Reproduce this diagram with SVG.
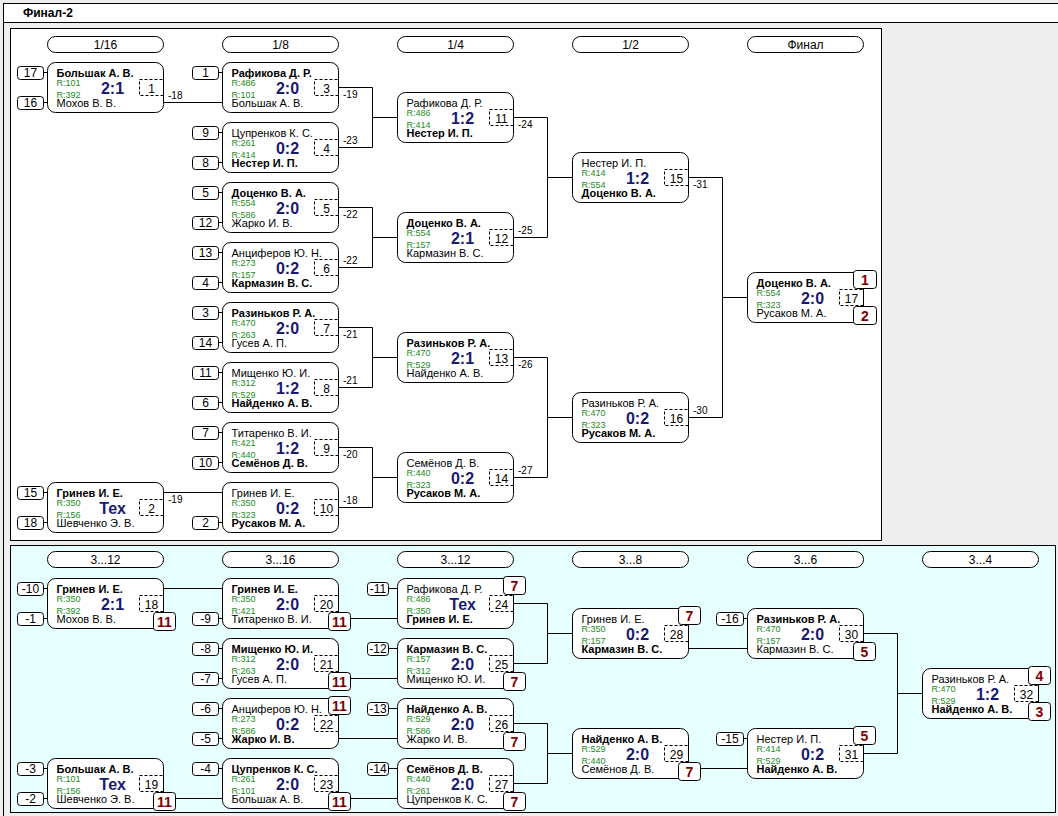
<svg xmlns="http://www.w3.org/2000/svg" width="1058" height="816" viewBox="0 0 1058 816">
<style>
text{font-family:"Liberation Sans",Arial,sans-serif;fill:#000}
.bx{fill:#fff;stroke:#000}
.sd{fill:#fff;stroke:#000}
.dn{fill:none;stroke:#000;stroke-dasharray:3 2}
.bg{fill:#fff;stroke:#000}
.nb{font-size:11px;font-weight:bold}
.nr{font-size:11px}
.r{font-size:9px;fill:#228b22}
.sc{font-size:16px;font-weight:bold;fill:#191970;text-anchor:middle}
.mn{font-size:12px;text-anchor:middle}
.st{font-size:12px;text-anchor:middle}
.bt{font-size:14px;font-weight:bold;fill:#800000;text-anchor:middle}
.lb{font-size:10px}
.hd{font-size:12px;text-anchor:middle}
.cn{fill:none;stroke:#000}
.hp{fill:#fff;stroke:#000}
</style>
<rect x="0" y="0" width="1058" height="816" fill="#eeeeee"/>
<rect x="3.5" y="3.5" width="1060" height="830" fill="none" stroke="#000"/>
<rect x="3.5" y="3.5" width="1060" height="19" fill="#fff" stroke="#000"/>
<text x="23" y="17" style="font-size:12px;font-weight:bold">Финал-2</text>
<rect x="10.5" y="28.5" width="871" height="512" fill="#fff" stroke="#000"/>
<rect x="10.5" y="545.5" width="1045" height="267" fill="#e6ffff" stroke="#000"/>

<g id="headers">
<rect class="hp" x="47.5" y="36.5" width="116" height="16" rx="8"/><text class="hd" x="105.5" y="48.5">1/16</text>
<rect class="hp" x="222.5" y="36.5" width="116" height="16" rx="8"/><text class="hd" x="280.5" y="48.5">1/8</text>
<rect class="hp" x="397.5" y="36.5" width="116" height="16" rx="8"/><text class="hd" x="455.5" y="48.5">1/4</text>
<rect class="hp" x="572.5" y="36.5" width="116" height="16" rx="8"/><text class="hd" x="630.5" y="48.5">1/2</text>
<rect class="hp" x="747.5" y="36.5" width="116" height="16" rx="8"/><text class="hd" x="805.5" y="48.5">Финал</text>
<rect class="hp" x="47.5" y="551.5" width="116" height="16" rx="8"/><text class="hd" x="105.5" y="563.5">3...12</text>
<rect class="hp" x="222.5" y="551.5" width="116" height="16" rx="8"/><text class="hd" x="280.5" y="563.5">3...16</text>
<rect class="hp" x="397.5" y="551.5" width="116" height="16" rx="8"/><text class="hd" x="455.5" y="563.5">3...12</text>
<rect class="hp" x="572.5" y="551.5" width="116" height="16" rx="8"/><text class="hd" x="630.5" y="563.5">3...8</text>
<rect class="hp" x="747.5" y="551.5" width="116" height="16" rx="8"/><text class="hd" x="805.5" y="563.5">3...6</text>
<rect class="hp" x="922.5" y="551.5" width="116" height="16" rx="8"/><text class="hd" x="980.5" y="563.5">3...4</text>
</g>

<g id="connectors">
<path class="cn" d="M163.5,102.5 H222.5 M163.5,492.5 H222.5
M338.5,87.5 H372.5 V147.5 H338.5 M372.5,117.5 H397.5
M338.5,207.5 H372.5 V267.5 H338.5 M372.5,237.5 H397.5
M338.5,327.5 H372.5 V387.5 H338.5 M372.5,357.5 H397.5
M338.5,447.5 H372.5 V507.5 H338.5 M372.5,477.5 H397.5
M513.5,117.5 H547.5 V237.5 H513.5 M547.5,177.5 H572.5
M513.5,357.5 H547.5 V477.5 H513.5 M547.5,417.5 H572.5
M688.5,177.5 H722.5 V417.5 H688.5 M722.5,297.5 H747.5
M163.5,588.5 H222.5 M163.5,798.5 H222.5
M338.5,618.5 H397.5 M338.5,678.5 H397.5 M338.5,738.5 H397.5 M338.5,798.5 H397.5
M513.5,603.5 H547.5 V663.5 H513.5 M547.5,633.5 H572.5
M513.5,723.5 H547.5 V783.5 H513.5 M547.5,753.5 H572.5
M688.5,648.5 H747.5 M688.5,768.5 H747.5
M863.5,633.5 H897.5 V753.5 H863.5 M897.5,693.5 H922.5"/>
<text class="lb" x="168" y="99">-18</text>
<text class="lb" x="168" y="503">-19</text>
<text class="lb" x="343" y="98">-19</text>
<text class="lb" x="343" y="144">-23</text>
<text class="lb" x="343" y="218">-22</text>
<text class="lb" x="343" y="264">-22</text>
<text class="lb" x="343" y="338">-21</text>
<text class="lb" x="343" y="384">-21</text>
<text class="lb" x="343" y="458">-20</text>
<text class="lb" x="343" y="504">-18</text>
<text class="lb" x="518" y="128">-24</text>
<text class="lb" x="518" y="234">-25</text>
<text class="lb" x="518" y="368">-26</text>
<text class="lb" x="518" y="474">-27</text>
<text class="lb" x="693" y="188">-31</text>
<text class="lb" x="693" y="414">-30</text>
</g>

<g id="m1" transform="translate(47.5,62.5)">
<rect class="sd" x="-30" y="4" width="26" height="13" rx="3"/><text class="st" x="-17" y="14.5">17</text>
<rect class="sd" x="-30" y="34" width="26" height="13" rx="3"/><text class="st" x="-17" y="44.5">16</text>
<path class="cn" d="M-4,10 H0 M-4,40 H0"/>
<rect class="bx" width="116" height="50" rx="8"/>
<text class="nb" x="9" y="14">Большак А. В.</text><text class="r" x="9" y="23.5">R:101</text><text class="r" x="9" y="35">R:392</text>
<text class="sc" x="65" y="31">2:1</text><text class="nr" x="9" y="44">Мохов В. В.</text>
<rect class="dn" x="92" y="17" width="24" height="16"/><text class="mn" x="104" y="30">1</text>
</g>
<g id="m2" transform="translate(47.5,482.5)">
<rect class="sd" x="-30" y="4" width="26" height="13" rx="3"/><text class="st" x="-17" y="14.5">15</text>
<rect class="sd" x="-30" y="34" width="26" height="13" rx="3"/><text class="st" x="-17" y="44.5">18</text>
<path class="cn" d="M-4,10 H0 M-4,40 H0"/>
<rect class="bx" width="116" height="50" rx="8"/>
<text class="nb" x="9" y="14">Гринев И. Е.</text><text class="r" x="9" y="23.5">R:350</text><text class="r" x="9" y="35">R:156</text>
<text class="sc" x="65" y="31">Тех</text><text class="nr" x="9" y="44">Шевченко Э. В.</text>
<rect class="dn" x="92" y="17" width="24" height="16"/><text class="mn" x="104" y="30">2</text>
</g>
<g id="m3" transform="translate(222.5,62.5)">
<rect class="sd" x="-30" y="4" width="26" height="13" rx="3"/><text class="st" x="-17" y="14.5">1</text>
<path class="cn" d="M-4,10 H0"/>
<rect class="bx" width="116" height="50" rx="8"/>
<text class="nb" x="9" y="14">Рафикова Д. Р.</text><text class="r" x="9" y="23.5">R:486</text><text class="r" x="9" y="35">R:101</text>
<text class="sc" x="65" y="31">2:0</text><text class="nr" x="9" y="44">Большак А. В.</text>
<rect class="dn" x="92" y="17" width="24" height="16"/><text class="mn" x="104" y="30">3</text>
</g>
<g id="m4" transform="translate(222.5,122.5)">
<rect class="sd" x="-30" y="4" width="26" height="13" rx="3"/><text class="st" x="-17" y="14.5">9</text>
<rect class="sd" x="-30" y="34" width="26" height="13" rx="3"/><text class="st" x="-17" y="44.5">8</text>
<path class="cn" d="M-4,10 H0 M-4,40 H0"/>
<rect class="bx" width="116" height="50" rx="8"/>
<text class="nr" x="9" y="14">Цупренков К. С.</text><text class="r" x="9" y="23.5">R:261</text><text class="r" x="9" y="35">R:414</text>
<text class="sc" x="65" y="31">0:2</text><text class="nb" x="9" y="44">Нестер И. П.</text>
<rect class="dn" x="92" y="17" width="24" height="16"/><text class="mn" x="104" y="30">4</text>
</g>
<g id="m5" transform="translate(222.5,182.5)">
<rect class="sd" x="-30" y="4" width="26" height="13" rx="3"/><text class="st" x="-17" y="14.5">5</text>
<rect class="sd" x="-30" y="34" width="26" height="13" rx="3"/><text class="st" x="-17" y="44.5">12</text>
<path class="cn" d="M-4,10 H0 M-4,40 H0"/>
<rect class="bx" width="116" height="50" rx="8"/>
<text class="nb" x="9" y="14">Доценко В. А.</text><text class="r" x="9" y="23.5">R:554</text><text class="r" x="9" y="35">R:586</text>
<text class="sc" x="65" y="31">2:0</text><text class="nr" x="9" y="44">Жарко И. В.</text>
<rect class="dn" x="92" y="17" width="24" height="16"/><text class="mn" x="104" y="30">5</text>
</g>
<g id="m6" transform="translate(222.5,242.5)">
<rect class="sd" x="-30" y="4" width="26" height="13" rx="3"/><text class="st" x="-17" y="14.5">13</text>
<rect class="sd" x="-30" y="34" width="26" height="13" rx="3"/><text class="st" x="-17" y="44.5">4</text>
<path class="cn" d="M-4,10 H0 M-4,40 H0"/>
<rect class="bx" width="116" height="50" rx="8"/>
<text class="nr" x="9" y="14">Анциферов Ю. Н.</text><text class="r" x="9" y="23.5">R:273</text><text class="r" x="9" y="35">R:157</text>
<text class="sc" x="65" y="31">0:2</text><text class="nb" x="9" y="44">Кармазин В. С.</text>
<rect class="dn" x="92" y="17" width="24" height="16"/><text class="mn" x="104" y="30">6</text>
</g>
<g id="m7" transform="translate(222.5,302.5)">
<rect class="sd" x="-30" y="4" width="26" height="13" rx="3"/><text class="st" x="-17" y="14.5">3</text>
<rect class="sd" x="-30" y="34" width="26" height="13" rx="3"/><text class="st" x="-17" y="44.5">14</text>
<path class="cn" d="M-4,10 H0 M-4,40 H0"/>
<rect class="bx" width="116" height="50" rx="8"/>
<text class="nb" x="9" y="14">Разиньков Р. А.</text><text class="r" x="9" y="23.5">R:470</text><text class="r" x="9" y="35">R:263</text>
<text class="sc" x="65" y="31">2:0</text><text class="nr" x="9" y="44">Гусев А. П.</text>
<rect class="dn" x="92" y="17" width="24" height="16"/><text class="mn" x="104" y="30">7</text>
</g>
<g id="m8" transform="translate(222.5,362.5)">
<rect class="sd" x="-30" y="4" width="26" height="13" rx="3"/><text class="st" x="-17" y="14.5">11</text>
<rect class="sd" x="-30" y="34" width="26" height="13" rx="3"/><text class="st" x="-17" y="44.5">6</text>
<path class="cn" d="M-4,10 H0 M-4,40 H0"/>
<rect class="bx" width="116" height="50" rx="8"/>
<text class="nr" x="9" y="14">Мищенко Ю. И.</text><text class="r" x="9" y="23.5">R:312</text><text class="r" x="9" y="35">R:529</text>
<text class="sc" x="65" y="31">1:2</text><text class="nb" x="9" y="44">Найденко А. В.</text>
<rect class="dn" x="92" y="17" width="24" height="16"/><text class="mn" x="104" y="30">8</text>
</g>
<g id="m9" transform="translate(222.5,422.5)">
<rect class="sd" x="-30" y="4" width="26" height="13" rx="3"/><text class="st" x="-17" y="14.5">7</text>
<rect class="sd" x="-30" y="34" width="26" height="13" rx="3"/><text class="st" x="-17" y="44.5">10</text>
<path class="cn" d="M-4,10 H0 M-4,40 H0"/>
<rect class="bx" width="116" height="50" rx="8"/>
<text class="nr" x="9" y="14">Титаренко В. И.</text><text class="r" x="9" y="23.5">R:421</text><text class="r" x="9" y="35">R:440</text>
<text class="sc" x="65" y="31">1:2</text><text class="nb" x="9" y="44">Семёнов Д. В.</text>
<rect class="dn" x="92" y="17" width="24" height="16"/><text class="mn" x="104" y="30">9</text>
</g>
<g id="m10" transform="translate(222.5,482.5)">
<rect class="sd" x="-30" y="34" width="26" height="13" rx="3"/><text class="st" x="-17" y="44.5">2</text>
<path class="cn" d="M-4,40 H0"/>
<rect class="bx" width="116" height="50" rx="8"/>
<text class="nr" x="9" y="14">Гринев И. Е.</text><text class="r" x="9" y="23.5">R:350</text><text class="r" x="9" y="35">R:323</text>
<text class="sc" x="65" y="31">0:2</text><text class="nb" x="9" y="44">Русаков М. А.</text>
<rect class="dn" x="92" y="17" width="24" height="16"/><text class="mn" x="104" y="30">10</text>
</g>
<g id="m11" transform="translate(397.5,92.5)">
<rect class="bx" width="116" height="50" rx="8"/>
<text class="nr" x="9" y="14">Рафикова Д. Р.</text><text class="r" x="9" y="23.5">R:486</text><text class="r" x="9" y="35">R:414</text>
<text class="sc" x="65" y="31">1:2</text><text class="nb" x="9" y="44">Нестер И. П.</text>
<rect class="dn" x="92" y="17" width="24" height="16"/><text class="mn" x="104" y="30">11</text>
</g>
<g id="m12" transform="translate(397.5,212.5)">
<rect class="bx" width="116" height="50" rx="8"/>
<text class="nb" x="9" y="14">Доценко В. А.</text><text class="r" x="9" y="23.5">R:554</text><text class="r" x="9" y="35">R:157</text>
<text class="sc" x="65" y="31">2:1</text><text class="nr" x="9" y="44">Кармазин В. С.</text>
<rect class="dn" x="92" y="17" width="24" height="16"/><text class="mn" x="104" y="30">12</text>
</g>
<g id="m13" transform="translate(397.5,332.5)">
<rect class="bx" width="116" height="50" rx="8"/>
<text class="nb" x="9" y="14">Разиньков Р. А.</text><text class="r" x="9" y="23.5">R:470</text><text class="r" x="9" y="35">R:529</text>
<text class="sc" x="65" y="31">2:1</text><text class="nr" x="9" y="44">Найденко А. В.</text>
<rect class="dn" x="92" y="17" width="24" height="16"/><text class="mn" x="104" y="30">13</text>
</g>
<g id="m14" transform="translate(397.5,452.5)">
<rect class="bx" width="116" height="50" rx="8"/>
<text class="nr" x="9" y="14">Семёнов Д. В.</text><text class="r" x="9" y="23.5">R:440</text><text class="r" x="9" y="35">R:323</text>
<text class="sc" x="65" y="31">0:2</text><text class="nb" x="9" y="44">Русаков М. А.</text>
<rect class="dn" x="92" y="17" width="24" height="16"/><text class="mn" x="104" y="30">14</text>
</g>
<g id="m15" transform="translate(572.5,152.5)">
<rect class="bx" width="116" height="50" rx="8"/>
<text class="nr" x="9" y="14">Нестер И. П.</text><text class="r" x="9" y="23.5">R:414</text><text class="r" x="9" y="35">R:554</text>
<text class="sc" x="65" y="31">1:2</text><text class="nb" x="9" y="44">Доценко В. А.</text>
<rect class="dn" x="92" y="17" width="24" height="16"/><text class="mn" x="104" y="30">15</text>
</g>
<g id="m16" transform="translate(572.5,392.5)">
<rect class="bx" width="116" height="50" rx="8"/>
<text class="nr" x="9" y="14">Разиньков Р. А.</text><text class="r" x="9" y="23.5">R:470</text><text class="r" x="9" y="35">R:323</text>
<text class="sc" x="65" y="31">0:2</text><text class="nb" x="9" y="44">Русаков М. А.</text>
<rect class="dn" x="92" y="17" width="24" height="16"/><text class="mn" x="104" y="30">16</text>
</g>
<g id="m17" transform="translate(747.5,272.5)">
<rect class="bx" width="116" height="50" rx="8"/>
<text class="nb" x="9" y="14">Доценко В. А.</text><text class="r" x="9" y="23.5">R:554</text><text class="r" x="9" y="35">R:323</text>
<text class="sc" x="65" y="31">2:0</text><text class="nr" x="9" y="44">Русаков М. А.</text>
<rect class="dn" x="92" y="17" width="24" height="16"/><text class="mn" x="104" y="30">17</text>
<rect class="bg" x="106" y="-2" width="23" height="18" rx="3"/><text class="bt" x="117.5" y="12.5">1</text>
<rect class="bg" x="106" y="34" width="23" height="18" rx="3"/><text class="bt" x="117.5" y="48.5">2</text>
</g>

<g id="m18" transform="translate(47.5,578.5)">
<rect class="sd" x="-30" y="4" width="26" height="13" rx="3"/><text class="st" x="-17" y="14.5">-10</text>
<rect class="sd" x="-30" y="34" width="26" height="13" rx="3"/><text class="st" x="-17" y="44.5">-1</text>
<path class="cn" d="M-4,10 H0 M-4,40 H0"/>
<rect class="bx" width="116" height="50" rx="8"/>
<text class="nb" x="9" y="14">Гринев И. Е.</text><text class="r" x="9" y="23.5">R:350</text><text class="r" x="9" y="35">R:392</text>
<text class="sc" x="65" y="31">2:1</text><text class="nr" x="9" y="44">Мохов В. В.</text>
<rect class="dn" x="92" y="17" width="24" height="16"/><text class="mn" x="104" y="30">18</text>
<rect class="bg" x="106" y="34" width="22" height="18" rx="3"/><text class="bt" x="117" y="48.5">11</text>
</g>
<g id="m19" transform="translate(47.5,758.5)">
<rect class="sd" x="-30" y="4" width="26" height="13" rx="3"/><text class="st" x="-17" y="14.5">-3</text>
<rect class="sd" x="-30" y="34" width="26" height="13" rx="3"/><text class="st" x="-17" y="44.5">-2</text>
<path class="cn" d="M-4,10 H0 M-4,40 H0"/>
<rect class="bx" width="116" height="50" rx="8"/>
<text class="nb" x="9" y="14">Большак А. В.</text><text class="r" x="9" y="23.5">R:101</text><text class="r" x="9" y="35">R:156</text>
<text class="sc" x="65" y="31">Тех</text><text class="nr" x="9" y="44">Шевченко Э. В.</text>
<rect class="dn" x="92" y="17" width="24" height="16"/><text class="mn" x="104" y="30">19</text>
<rect class="bg" x="106" y="34" width="22" height="18" rx="3"/><text class="bt" x="117" y="48.5">11</text>
</g>
<g id="m20" transform="translate(222.5,578.5)">
<rect class="sd" x="-30" y="34" width="26" height="13" rx="3"/><text class="st" x="-17" y="44.5">-9</text>
<path class="cn" d="M-4,40 H0"/>
<rect class="bx" width="116" height="50" rx="8"/>
<text class="nb" x="9" y="14">Гринев И. Е.</text><text class="r" x="9" y="23.5">R:350</text><text class="r" x="9" y="35">R:421</text>
<text class="sc" x="65" y="31">2:0</text><text class="nr" x="9" y="44">Титаренко В. И.</text>
<rect class="dn" x="92" y="17" width="24" height="16"/><text class="mn" x="104" y="30">20</text>
<rect class="bg" x="106" y="34" width="22" height="18" rx="3"/><text class="bt" x="117" y="48.5">11</text>
</g>
<g id="m21" transform="translate(222.5,638.5)">
<rect class="sd" x="-30" y="4" width="26" height="13" rx="3"/><text class="st" x="-17" y="14.5">-8</text>
<rect class="sd" x="-30" y="34" width="26" height="13" rx="3"/><text class="st" x="-17" y="44.5">-7</text>
<path class="cn" d="M-4,10 H0 M-4,40 H0"/>
<rect class="bx" width="116" height="50" rx="8"/>
<text class="nb" x="9" y="14">Мищенко Ю. И.</text><text class="r" x="9" y="23.5">R:312</text><text class="r" x="9" y="35">R:263</text>
<text class="sc" x="65" y="31">2:0</text><text class="nr" x="9" y="44">Гусев А. П.</text>
<rect class="dn" x="92" y="17" width="24" height="16"/><text class="mn" x="104" y="30">21</text>
<rect class="bg" x="106" y="34" width="22" height="18" rx="3"/><text class="bt" x="117" y="48.5">11</text>
</g>
<g id="m22" transform="translate(222.5,698.5)">
<rect class="sd" x="-30" y="4" width="26" height="13" rx="3"/><text class="st" x="-17" y="14.5">-6</text>
<rect class="sd" x="-30" y="34" width="26" height="13" rx="3"/><text class="st" x="-17" y="44.5">-5</text>
<path class="cn" d="M-4,10 H0 M-4,40 H0"/>
<rect class="bx" width="116" height="50" rx="8"/>
<text class="nr" x="9" y="14">Анциферов Ю. Н.</text><text class="r" x="9" y="23.5">R:273</text><text class="r" x="9" y="35">R:586</text>
<text class="sc" x="65" y="31">0:2</text><text class="nb" x="9" y="44">Жарко И. В.</text>
<rect class="dn" x="92" y="17" width="24" height="16"/><text class="mn" x="104" y="30">22</text>
<rect class="bg" x="106" y="-2" width="22" height="18" rx="3"/><text class="bt" x="117" y="12.5">11</text>
</g>
<g id="m23" transform="translate(222.5,758.5)">
<rect class="sd" x="-30" y="4" width="26" height="13" rx="3"/><text class="st" x="-17" y="14.5">-4</text>
<path class="cn" d="M-4,10 H0"/>
<rect class="bx" width="116" height="50" rx="8"/>
<text class="nb" x="9" y="14">Цупренков К. С.</text><text class="r" x="9" y="23.5">R:261</text><text class="r" x="9" y="35">R:101</text>
<text class="sc" x="65" y="31">2:0</text><text class="nr" x="9" y="44">Большак А. В.</text>
<rect class="dn" x="92" y="17" width="24" height="16"/><text class="mn" x="104" y="30">23</text>
<rect class="bg" x="106" y="34" width="22" height="18" rx="3"/><text class="bt" x="117" y="48.5">11</text>
</g>
<g id="m24" transform="translate(397.5,578.5)">
<rect class="sd" x="-30" y="4" width="21" height="13" rx="3"/><text class="st" x="-19.5" y="14.5">-11</text>
<path class="cn" d="M-9,10 H0"/>
<rect class="bx" width="116" height="50" rx="8"/>
<text class="nr" x="9" y="14">Рафикова Д. Р.</text><text class="r" x="9" y="23.5">R:486</text><text class="r" x="9" y="35">R:350</text>
<text class="sc" x="65" y="31">Тех</text><text class="nb" x="9" y="44">Гринев И. Е.</text>
<rect class="dn" x="92" y="17" width="24" height="16"/><text class="mn" x="104" y="30">24</text>
<rect class="bg" x="106" y="-2" width="22" height="18" rx="3"/><text class="bt" x="117" y="12.5">7</text>
</g>
<g id="m25" transform="translate(397.5,638.5)">
<rect class="sd" x="-30" y="4" width="21" height="13" rx="3"/><text class="st" x="-19.5" y="14.5">-12</text>
<path class="cn" d="M-9,10 H0"/>
<rect class="bx" width="116" height="50" rx="8"/>
<text class="nb" x="9" y="14">Кармазин В. С.</text><text class="r" x="9" y="23.5">R:157</text><text class="r" x="9" y="35">R:312</text>
<text class="sc" x="65" y="31">2:0</text><text class="nr" x="9" y="44">Мищенко Ю. И.</text>
<rect class="dn" x="92" y="17" width="24" height="16"/><text class="mn" x="104" y="30">25</text>
<rect class="bg" x="106" y="34" width="22" height="18" rx="3"/><text class="bt" x="117" y="48.5">7</text>
</g>
<g id="m26" transform="translate(397.5,698.5)">
<rect class="sd" x="-30" y="4" width="21" height="13" rx="3"/><text class="st" x="-19.5" y="14.5">-13</text>
<path class="cn" d="M-9,10 H0"/>
<rect class="bx" width="116" height="50" rx="8"/>
<text class="nb" x="9" y="14">Найденко А. В.</text><text class="r" x="9" y="23.5">R:529</text><text class="r" x="9" y="35">R:586</text>
<text class="sc" x="65" y="31">2:0</text><text class="nr" x="9" y="44">Жарко И. В.</text>
<rect class="dn" x="92" y="17" width="24" height="16"/><text class="mn" x="104" y="30">26</text>
<rect class="bg" x="106" y="34" width="22" height="18" rx="3"/><text class="bt" x="117" y="48.5">7</text>
</g>
<g id="m27" transform="translate(397.5,758.5)">
<rect class="sd" x="-30" y="4" width="21" height="13" rx="3"/><text class="st" x="-19.5" y="14.5">-14</text>
<path class="cn" d="M-9,10 H0"/>
<rect class="bx" width="116" height="50" rx="8"/>
<text class="nb" x="9" y="14">Семёнов Д. В.</text><text class="r" x="9" y="23.5">R:440</text><text class="r" x="9" y="35">R:261</text>
<text class="sc" x="65" y="31">2:0</text><text class="nr" x="9" y="44">Цупренков К. С.</text>
<rect class="dn" x="92" y="17" width="24" height="16"/><text class="mn" x="104" y="30">27</text>
<rect class="bg" x="106" y="34" width="22" height="18" rx="3"/><text class="bt" x="117" y="48.5">7</text>
</g>
<g id="m28" transform="translate(572.5,608.5)">
<rect class="bx" width="116" height="50" rx="8"/>
<text class="nr" x="9" y="14">Гринев И. Е.</text><text class="r" x="9" y="23.5">R:350</text><text class="r" x="9" y="35">R:157</text>
<text class="sc" x="65" y="31">0:2</text><text class="nb" x="9" y="44">Кармазин В. С.</text>
<rect class="dn" x="92" y="17" width="24" height="16"/><text class="mn" x="104" y="30">28</text>
<rect class="bg" x="106" y="-2" width="22" height="18" rx="3"/><text class="bt" x="117" y="12.5">7</text>
</g>
<g id="m29" transform="translate(572.5,728.5)">
<rect class="bx" width="116" height="50" rx="8"/>
<text class="nb" x="9" y="14">Найденко А. В.</text><text class="r" x="9" y="23.5">R:529</text><text class="r" x="9" y="35">R:440</text>
<text class="sc" x="65" y="31">2:0</text><text class="nr" x="9" y="44">Семёнов Д. В.</text>
<rect class="dn" x="92" y="17" width="24" height="16"/><text class="mn" x="104" y="30">29</text>
<rect class="bg" x="106" y="34" width="22" height="18" rx="3"/><text class="bt" x="117" y="48.5">7</text>
</g>
<g id="m30" transform="translate(747.5,608.5)">
<rect class="sd" x="-31" y="4" width="27" height="13" rx="3"/><text class="st" x="-17.5" y="14.5">-16</text>
<path class="cn" d="M-4,10 H0"/>
<rect class="bx" width="116" height="50" rx="8"/>
<text class="nb" x="9" y="14">Разиньков Р. А.</text><text class="r" x="9" y="23.5">R:470</text><text class="r" x="9" y="35">R:157</text>
<text class="sc" x="65" y="31">2:0</text><text class="nr" x="9" y="44">Кармазин В. С.</text>
<rect class="dn" x="92" y="17" width="24" height="16"/><text class="mn" x="104" y="30">30</text>
<rect class="bg" x="106" y="34" width="22" height="18" rx="3"/><text class="bt" x="117" y="48.5">5</text>
</g>
<g id="m31" transform="translate(747.5,728.5)">
<rect class="sd" x="-31" y="4" width="27" height="13" rx="3"/><text class="st" x="-17.5" y="14.5">-15</text>
<path class="cn" d="M-4,10 H0"/>
<rect class="bx" width="116" height="50" rx="8"/>
<text class="nr" x="9" y="14">Нестер И. П.</text><text class="r" x="9" y="23.5">R:414</text><text class="r" x="9" y="35">R:529</text>
<text class="sc" x="65" y="31">0:2</text><text class="nb" x="9" y="44">Найденко А. В.</text>
<rect class="dn" x="92" y="17" width="24" height="16"/><text class="mn" x="104" y="30">31</text>
<rect class="bg" x="106" y="-2" width="22" height="18" rx="3"/><text class="bt" x="117" y="12.5">5</text>
</g>
<g id="m32" transform="translate(922.5,668.5)">
<rect class="bx" width="116" height="50" rx="8"/>
<text class="nr" x="9" y="14">Разиньков Р. А.</text><text class="r" x="9" y="23.5">R:470</text><text class="r" x="9" y="35">R:529</text>
<text class="sc" x="65" y="31">1:2</text><text class="nb" x="9" y="44">Найденко А. В.</text>
<rect class="dn" x="92" y="17" width="24" height="16"/><text class="mn" x="104" y="30">32</text>
<rect class="bg" x="106" y="-2" width="22" height="18" rx="3"/><text class="bt" x="117" y="12.5">4</text>
<rect class="bg" x="106" y="34" width="22" height="18" rx="3"/><text class="bt" x="117" y="48.5">3</text>
</g>
</svg>
